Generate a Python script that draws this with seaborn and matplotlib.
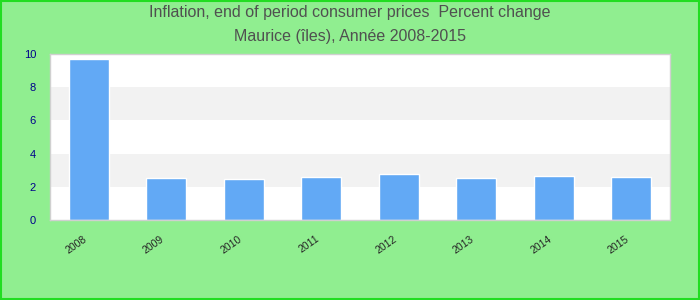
import matplotlib
matplotlib.use("Agg")
import matplotlib.pyplot as plt
import matplotlib.transforms as mtransforms
import seaborn as sns
import pandas as pd

years = ["2008", "2009", "2010", "2011", "2012", "2013", "2014", "2015"]
values = [9.7, 2.53, 2.47, 2.6, 2.77, 2.53, 2.65, 2.6]
yticks = [0, 2, 4, 6, 8, 10]
title_lines = ["Inflation, end of period consumer prices  Percent change",
               "Maurice (îles), Année 2008-2015"]

sns.set_style("white")
plt.rcParams['font.family'] = ['Liberation Sans', 'DejaVu Sans']

df = pd.DataFrame({"year": years, "value": values})

fig = plt.figure(figsize=(7, 3), dpi=100, facecolor="#90ee90")
fig.patches.append(plt.Rectangle((0.001, 0.002), 0.997, 0.995, transform=fig.transFigure,
                                 fill=False, edgecolor="#22dd22", linewidth=1.5))
ax = fig.add_axes([50/700, 80/300, 620/700, 166/300])
ax.set_facecolor("white")
for lo, hi in [(2, 4), (6, 8)]:
    ax.axhspan(lo, hi, color="#f2f2f2", zorder=0, linewidth=0)

sns.barplot(data=df, x="year", y="value", color="#62a9f5", saturation=1, width=0.52, ax=ax, zorder=2)

ax.set_ylim(0, 10)
ax.set_yticks(yticks)
ax.set_xlim(-0.5, len(years) - 0.5)
ax.set_xlabel("")
ax.set_ylabel("")
ax.tick_params(axis="y", colors="#00008b", labelsize=8, length=0, pad=10)
ax.tick_params(axis="x", labelsize=7.5, length=0, pad=10)
offset = mtransforms.ScaledTranslation(-6/100, 0, fig.dpi_scale_trans)
for lab in ax.get_xticklabels():
    lab.set_rotation(35)
    lab.set_ha("right")
    lab.set_rotation_mode("anchor")
    lab.set_transform(lab.get_transform() + offset)
for s in ax.spines.values():
    s.set_color("#d0d0d0")
    s.set_linewidth(1)

fig.text(0.5, 1 - 13/300, title_lines[0], ha="center", va="center", fontsize=11.5, color="#505050")
fig.text(0.5, 1 - 36/300, title_lines[1], ha="center", va="center", fontsize=11.5, color="#505050")

fig.savefig("out.png", dpi=100, facecolor=fig.get_facecolor())
